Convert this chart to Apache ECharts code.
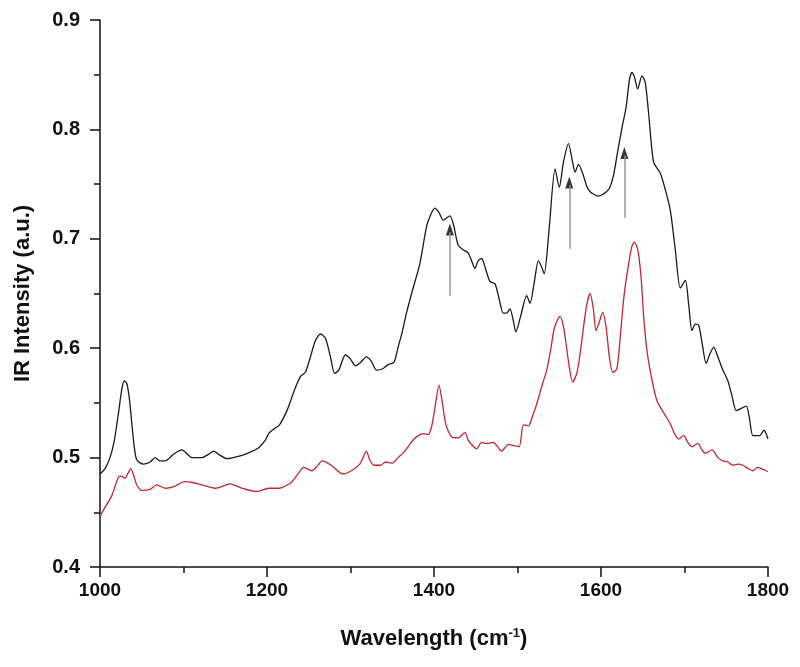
<!DOCTYPE html>
<html>
<head>
<meta charset="utf-8">
<script src="https://cdn.jsdelivr.net/npm/echarts@6/dist/echarts.min.js"></script>
<style>html,body{margin:0;padding:0;background:#fff}#c{width:800px;height:667px}</style>
</head>
<body>
<div id="c"></div>
<script>
// Upper (black) spectrum
var blackWavenumber = [1000,1006,1012,1017,1022,1026,1029,1032,1035,1038,1041,1044,1052,1060,1066,1072,1078,1088,1098,1105,1110,1122,1130,1136,1144,1152,1170,1180,1190,1198,1202,1208,1215,1225,1233,1240,1246,1252,1258,1264,1270,1276,1281,1286,1294,1300,1306,1312,1319,1325,1331,1338,1345,1352,1357,1362,1367,1375,1383,1391,1396,1401,1406,1411,1415,1419,1423,1429,1435,1441,1445,1449,1453,1457,1462,1467,1473,1478,1483,1487,1491,1495,1498,1504,1511,1515,1520,1525,1529,1532,1538,1545,1550,1555,1561,1566,1569,1573,1578,1583,1587,1593,1597,1601,1605,1610,1615,1620,1625,1630,1634,1637,1640,1644,1649,1653,1657,1663,1671,1677,1683,1689,1695,1701,1705,1709,1713,1717,1721,1726,1730,1735,1740,1746,1752,1757,1762,1768,1774,1778,1782,1790,1795,1800];
var blackIntensity = [0.485,0.490,0.500,0.515,0.540,0.562,0.570,0.568,0.555,0.532,0.510,0.498,0.494,0.496,0.500,0.497,0.497,0.503,0.507,0.503,0.500,0.500,0.503,0.506,0.502,0.499,0.502,0.505,0.509,0.516,0.522,0.526,0.530,0.545,0.562,0.574,0.578,0.592,0.607,0.613,0.609,0.592,0.577,0.580,0.594,0.590,0.584,0.587,0.592,0.588,0.580,0.581,0.585,0.587,0.601,0.615,0.632,0.655,0.677,0.711,0.722,0.728,0.724,0.717,0.719,0.721,0.714,0.694,0.690,0.687,0.680,0.673,0.680,0.682,0.672,0.661,0.659,0.645,0.632,0.632,0.636,0.625,0.615,0.630,0.648,0.641,0.660,0.680,0.674,0.668,0.710,0.764,0.747,0.770,0.787,0.770,0.761,0.768,0.760,0.748,0.743,0.740,0.739,0.740,0.742,0.746,0.758,0.780,0.801,0.820,0.845,0.852,0.848,0.837,0.849,0.843,0.815,0.770,0.760,0.745,0.726,0.690,0.655,0.662,0.640,0.616,0.622,0.621,0.605,0.586,0.594,0.601,0.592,0.580,0.570,0.556,0.543,0.545,0.547,0.535,0.520,0.520,0.525,0.517];
// Lower (red) spectrum
var redWavenumber = [1000,1004,1014,1022,1026,1030,1033,1037,1041,1044,1050,1060,1068,1078,1090,1101,1112,1122,1138,1156,1170,1188,1202,1215,1222,1230,1238,1244,1254,1260,1266,1277,1291,1301,1311,1315,1319,1323,1328,1336,1342,1350,1357,1364,1370,1376,1383,1388,1393,1397,1401,1406,1410,1414,1421,1429,1437,1441,1446,1451,1457,1463,1471,1476,1481,1486,1489,1495,1502,1507,1513,1518,1523,1529,1535,1540,1544,1548,1551,1555,1558,1562,1566,1571,1575,1579,1583,1587,1591,1594,1598,1602,1606,1610,1614,1619,1623,1627,1632,1637,1640,1644,1648,1651,1655,1660,1667,1675,1683,1688,1693,1699,1704,1709,1716,1721,1725,1733,1740,1746,1752,1758,1764,1770,1776,1782,1787,1792,1798,1800];
var redIntensity = [0.446,0.452,0.465,0.482,0.483,0.481,0.485,0.490,0.482,0.475,0.470,0.471,0.475,0.472,0.474,0.478,0.477,0.475,0.472,0.476,0.472,0.469,0.472,0.472,0.474,0.478,0.486,0.491,0.488,0.492,0.497,0.493,0.485,0.488,0.494,0.500,0.506,0.498,0.493,0.493,0.496,0.495,0.500,0.505,0.511,0.517,0.521,0.522,0.521,0.528,0.545,0.566,0.550,0.531,0.519,0.518,0.523,0.516,0.511,0.508,0.514,0.513,0.514,0.510,0.506,0.510,0.512,0.511,0.510,0.530,0.529,0.538,0.549,0.565,0.580,0.600,0.618,0.626,0.629,0.620,0.605,0.583,0.569,0.577,0.595,0.619,0.640,0.650,0.635,0.616,0.624,0.633,0.620,0.592,0.578,0.581,0.610,0.644,0.672,0.693,0.697,0.690,0.665,0.630,0.598,0.575,0.552,0.541,0.531,0.522,0.517,0.520,0.514,0.510,0.513,0.507,0.504,0.507,0.500,0.497,0.496,0.493,0.494,0.493,0.490,0.488,0.491,0.490,0.488,0.487];
// Arrow annotations
var arrowX = [1419, 1562, 1628];
var arrowFrom = [0.648, 0.691, 0.719];
var arrowTo = [0.714, 0.757, 0.784];
// Axis ticks
var xTicks = [1000, 1200, 1400, 1600, 1800];
var yTicks = [0.4, 0.5, 0.6, 0.7, 0.8, 0.9];

function pairs(xs, ys) { return xs.map(function (x, i) { return [x, ys[i]]; }); }

var chart = echarts.init(document.getElementById('c'), null, { renderer: 'canvas' });
var fontFam = '"Liberation Sans", Arial, sans-serif';
chart.setOption({
  animation: false,
  backgroundColor: '#fff',
  grid: { left: 100, right: 32, top: 20, bottom: 100, containLabel: false },
  xAxis: {
    type: 'value', min: xTicks[0], max: xTicks[xTicks.length - 1], interval: 200,
    name: 'Wavelength (cm{sup|-1})', nameLocation: 'middle', nameGap: 60,
    nameTextStyle: { fontFamily: fontFam, fontWeight: 'bold', fontSize: 22, color: '#111',
      rich: { sup: { fontFamily: fontFam, fontWeight: 'bold', fontSize: 13, verticalAlign: 'top', padding: [0, 0, 10, 0], color: '#111' } } },
    axisLine: { show: true, onZero: false, lineStyle: { color: '#111', width: 1.5 } },
    axisTick: { show: true, inside: false, length: 10, lineStyle: { color: '#111', width: 1.5 } },
    minorTick: { show: true, splitNumber: 2, length: 6, lineStyle: { color: '#111', width: 1.5 } },
    axisLabel: { margin: 14, fontFamily: fontFam, fontWeight: 'bold', fontSize: 19, color: '#111',
      formatter: function (v) { return String(v); } },
    splitLine: { show: false }
  },
  yAxis: {
    type: 'value', min: yTicks[0], max: yTicks[yTicks.length - 1], interval: 0.1,
    name: 'IR Intensity (a.u.)', nameLocation: 'middle', nameGap: 66, nameRotate: 90,
    nameTextStyle: { fontFamily: fontFam, fontWeight: 'bold', fontSize: 22, color: '#111' },
    axisLine: { show: true, onZero: false, lineStyle: { color: '#111', width: 1.5 } },
    axisTick: { show: true, inside: false, length: 10, lineStyle: { color: '#111', width: 1.5 } },
    minorTick: { show: true, splitNumber: 2, length: 6, lineStyle: { color: '#111', width: 1.5 } },
    axisLabel: { margin: 20, fontFamily: fontFam, fontWeight: 'bold', fontSize: 20, color: '#111',
      formatter: function (v) { return v.toFixed(1); } },
    splitLine: { show: false }
  },
  series: [
    {
      type: 'line', data: pairs(blackWavenumber, blackIntensity), showSymbol: false, smooth: 0.25,
      lineStyle: { color: '#1a1a1a', width: 1.3 }, z: 3,
      markLine: {
        silent: true, symbol: ['none', 'none'], label: { show: false },
        lineStyle: { color: '#999', width: 1.5, type: 'solid' },
        data: arrowX.map(function (x, i) { return [{ coord: [x, arrowFrom[i]] }, { coord: [x, arrowTo[i] - 0.008] }]; })
      }
    },
    {
      type: 'line', data: pairs(redWavenumber, redIntensity), showSymbol: false, smooth: 0.25,
      lineStyle: { color: '#c0282d', width: 1.3 }, z: 2
    },
    {
      type: 'scatter', data: pairs(arrowX, arrowTo), symbol: 'triangle', symbolSize: [8, 12],
      symbolOffset: [0, 6], itemStyle: { color: '#000' }, silent: true, z: 4
    }
  ]
});
</script>
</body>
</html>
